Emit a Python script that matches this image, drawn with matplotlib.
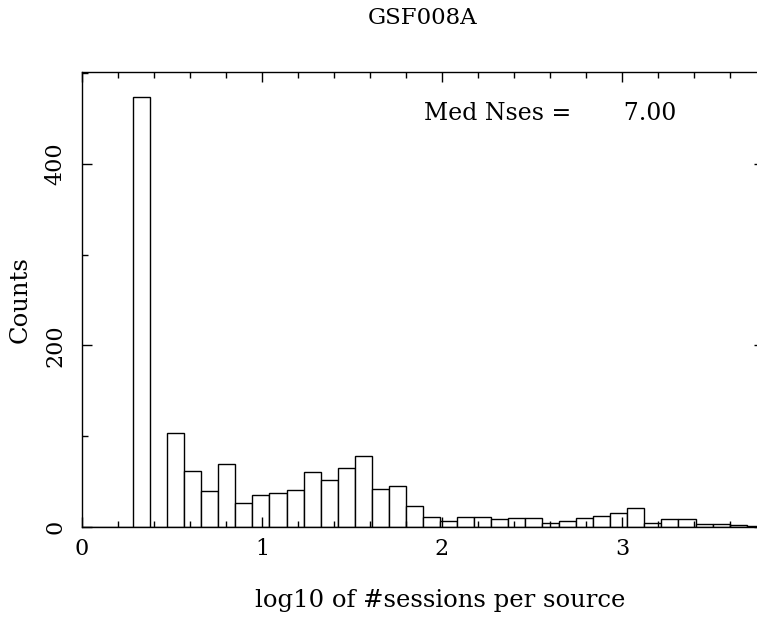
import matplotlib
matplotlib.use('Agg')
import matplotlib.pyplot as plt
import numpy as np
from matplotlib.ticker import MultipleLocator

# histogram of log10(#sessions per source), 40 bins from 0 to max
bin_width = 0.0947
n_bins = 40
counts = [0, 0, 0, 473, 0, 103, 62, 40, 69, 26,
          35, 37, 41, 61, 52, 65, 78, 42, 45, 23,
          11, 7, 11, 11, 9, 10, 10, 4, 7, 10,
          12, 15, 21, 4, 9, 9, 3, 3, 2, 1]
title = 'GSF008A'
median_text = 'Med Nses =       7.00'

edges = np.arange(n_bins + 1) * bin_width

plt.rcParams['font.family'] = ['DejaVu Serif']

fig = plt.figure(figsize=(7.57, 6.17), dpi=100)
ax_w = 763.7 - 82
ax = fig.add_axes([82 / 757, 90 / 617, ax_w / 757, 455 / 617])

ax.bar(edges[:-1], counts, width=bin_width, align='edge',
       facecolor='white', edgecolor='black', linewidth=1.0)

ax.set_xlim(0, edges[-1])
ax.set_ylim(0, 501)

ax.xaxis.set_major_locator(MultipleLocator(1))
ax.xaxis.set_minor_locator(MultipleLocator(0.2))
ax.yaxis.set_major_locator(MultipleLocator(200))
ax.yaxis.set_minor_locator(MultipleLocator(100))
ax.tick_params(which='both', direction='in', top=True, right=True, width=1.0)
ax.tick_params(which='major', length=7.5, labelsize=16)
ax.tick_params(which='minor', length=4)
ax.tick_params(axis='x', which='major', pad=8)
ax.tick_params(axis='y', which='major', pad=11)
for lab in ax.get_yticklabels():
    lab.set_rotation(90)
    lab.set_va('center')
for sp in ax.spines.values():
    sp.set_linewidth(1.0)

ax.set_ylabel('Counts', fontsize=17.5, va='center')
ax.yaxis.set_label_coords((20 - 82) / ax_w, 0.5)
ax.set_xlabel('log10 of #sessions per source', fontsize=17.5, va='center')
ax.xaxis.set_label_coords((440 - 82) / ax_w, -(601 - 527) / 455)

fig.text(423 / 757, 1 - 18 / 617, title, ha='center', va='center', fontsize=16.5)
ax.text((424 - 82) / ax_w, 1 - (113 - 72) / 455, median_text,
        transform=ax.transAxes, ha='left', va='center', fontsize=17)

fig.savefig('out.png', dpi=100)
